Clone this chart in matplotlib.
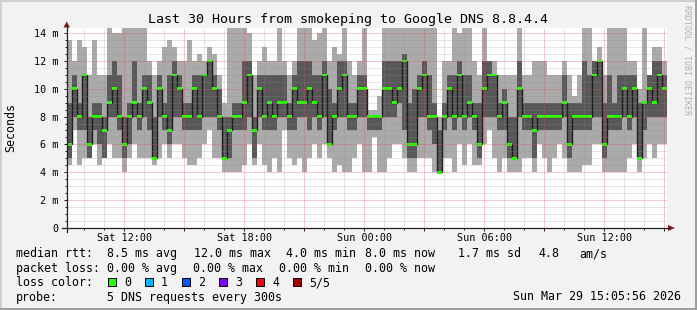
import matplotlib
matplotlib.use("Agg")
import matplotlib.pyplot as plt
from matplotlib.patches import Rectangle, Polygon
from matplotlib.lines import Line2D
import numpy as np

# ---------------- data ----------------
title = "Last 30 Hours from smokeping to Google DNS 8.8.4.4"
start_hour = 9.12      # hours since Sat 00:00 at the left edge
step_hours = 0.25      # one bin = 15 minutes

# median rtt per bin (ms)
median = [6, 10, 8, 11, 6, 8, 8, 7, 9, 10, 8, 6, 8, 9, 8, 10, 9, 5, 10, 8,
          7, 11, 10, 8, 8, 10, 8, 11, 12, 10, 8, 5, 7, 8, 8, 9, 11, 7, 10, 8,
          9, 8, 9, 9, 8, 10, 9, 9, 10, 9, 8, 11, 6, 8, 10, 11, 8, 8, 10, 10,
          8, 8, 8, 10, 10, 9, 10, 12, 6, 6, 10, 11, 8, 8, 4, 8, 10, 8, 11, 8,
          9, 8, 6, 10, 11, 11, 8, 9, 6, 5, 10, 8, 8, 7, 8, 8, 8, 8, 8, 9,
          6, 8, 8, 8, 8, 11, 12, 6, 8, 8, 8, 10, 8, 10, 5, 9, 10, 9, 11, 10]
# max rtt per bin (ms)
rtt_max = [13.5, 12, 13.5, 13, 11, 13.5, 11, 11, 14.5, 14, 14, 14.5, 14.5, 14.5, 14.5, 14.5, 12, 11, 12, 13,
           13.5, 13, 12, 12, 13.5, 12, 12.5, 12, 13, 12.5, 11, 9, 14.5, 14.5, 14.5, 14.5, 14, 11, 12, 13,
           12, 12, 14.5, 12, 11, 12, 14.5, 14.5, 14.5, 13.5, 14, 14.5, 12, 13, 12.5, 14.5, 12, 11, 12, 14.5,
           8.5, 8.5, 9.5, 14.5, 14.5, 14.5, 14.5, 14.5, 14.5, 14.5, 14.5, 14.5, 14.5, 14.5, 8, 12, 12, 14.5, 14, 14.5,
           14.5, 12, 11, 14.5, 12, 12, 11, 11, 11, 11, 14.5, 11, 11, 12, 12, 12, 11, 11, 11, 12,
           11, 9.5, 11, 14.5, 14.5, 12, 13, 11, 14.5, 14.5, 14.5, 14.5, 12, 12, 10, 14.5, 11, 13, 13, 12]
# min rtt per bin (ms)
rtt_min = [4.5, 7, 4.5, 5, 5, 6, 4.5, 5, 6, 5, 5, 4, 5, 6, 5, 5, 5, 4.5, 5, 6,
           5, 6, 6, 5, 4.5, 4.5, 5, 6, 7, 5, 5, 4, 4, 4, 4, 4.5, 6, 4.5, 6, 4.5,
           4, 5, 4, 7, 5, 4.5, 5, 4, 5, 6, 5, 6, 5, 4, 4.5, 4, 4, 5, 6, 4,
           4, 6.5, 4, 4, 5, 6, 6, 5, 4, 4, 5, 5, 5, 4, 4, 5, 5, 4, 6, 4.5,
           6, 4.5, 4.5, 6, 7, 5, 4, 5, 4, 4, 4, 5, 5, 4, 6, 5, 4, 5, 6, 5,
           4, 4, 4, 4.5, 4.5, 6, 6, 4, 4, 4, 4, 4, 5, 6, 4, 5, 6, 5, 6, 6]
# upper inner smoke (4th of 5 pings)
rtt_p4 = [9, 11, 9, 11, 8, 9, 9, 8, 11, 12, 11, 8, 9, 12, 9, 11, 11, 8, 11, 9,
          11, 12, 11, 9, 9, 11, 11, 11, 12, 11, 10, 8, 8, 9, 9, 12, 12, 8, 11, 11,
          11, 11, 11, 11, 9, 11, 12, 12, 12, 11, 11, 12, 10, 9, 12, 12, 9, 9, 11, 11,
          8, 8, 8, 12, 12, 12, 12, 12.5, 9, 10, 11, 12, 11, 9, 7, 9, 11, 11, 12, 11,
          11, 9, 9, 12, 12, 11, 9, 10, 8, 8, 12, 9, 9, 9, 9, 9, 9, 9, 9, 11,
          9, 9, 9, 12, 11, 12, 12, 9, 11, 9, 11, 11, 11, 11, 9, 9, 11, 12, 12, 11]
# lower inner smoke (2nd of 5 pings)
rtt_p2 = [5, 8, 7, 7, 5, 7, 6, 5, 8, 8, 7, 5, 6, 8, 7, 8, 7, 5, 8, 7,
          6, 8, 8, 7, 7, 7, 7, 8, 8, 8, 7, 5, 5, 7, 7, 7, 8, 5, 8, 7,
          7, 7, 8, 8, 7, 7, 8, 8, 7, 8, 7, 8, 6, 7, 8, 8, 7, 7, 8, 8,
          7, 7, 7, 8, 8, 8, 9, 7, 5, 5, 8, 8, 7, 6, 4, 7, 8, 7, 8, 7,
          8, 7, 5, 8, 8, 8, 7, 7, 5, 5, 8, 7, 7, 5, 7, 7, 7, 7, 7, 8,
          5, 7, 7, 7, 7, 8, 8, 5, 7, 7, 7, 8, 7, 8, 5, 7, 8, 8, 8, 8]

ytick_vals = [0, 2, 4, 6, 8, 10, 12, 14]
ytick_labels = ["0", "2 m", "4 m", "6 m", "8 m", "10 m", "12 m", "14 m"]
xtick_hours = [12, 15, 18, 21, 24, 27, 30, 33, 36, 39]
xtick_labels = ["Sat 12:00", "", "Sat 18:00", "", "Sun 00:00", "", "Sun 06:00", "", "Sun 12:00", ""]

legend_rtt = [("median rtt:", 16), ("8.5 ms avg", 107.3), ("12.0 ms max", 194),
              ("4.0 ms min", 286), ("8.0 ms now", 365), ("1.7 ms sd", 458.3),
              ("4.8", 538.3), ("am/s", 579.3)]
legend_loss = [("packet loss:", 16), ("0.00 % avg", 107.3), ("0.00 % max", 193.3),
               ("0.00 % min", 279.3), ("0.00 % now", 365)]
loss_labels = ["0", "1", "2", "3", "4", "5/5"]
loss_colors = ["#26ff00", "#00b8ff", "#0059ff", "#7e00ff", "#ff0000", "#a10000"]
probe_text = "5 DNS requests every 300s"
stamp_text = "Sun Mar 29 15:05:56 2026"

# ---------------- figure ----------------
W, H, DPI = 697, 310, 100
MONO = "DejaVu Sans Mono"
plt.rcParams['font.family'] = MONO

fig = plt.figure(figsize=(W / DPI, H / DPI), dpi=DPI, facecolor="#f2f2f2")

def fx(px):
    return px / W

def fy(py):
    return 1 - py / H

ax = fig.add_axes([fx(66.7), fy(228), fx(666.7) - fx(66.7), fy(27.5) - fy(228)])
ax.set_facecolor("white")

n = len(median)
edges = start_hour + step_hours * np.arange(n + 1)
med = np.array(median, float)

ax.stairs(rtt_max, edges, baseline=rtt_min, fill=True, color="#aaaaaa", lw=0, zorder=1)
ax.stairs(rtt_p4, edges, baseline=rtt_p2, fill=True, color="#585858", lw=0, zorder=1.1)
ax.stairs(med, edges, baseline=None, color="#1c1c1c", lw=1.0, zorder=1.2)
ax.stairs(med + 0.09, edges, baseline=med - 0.09, fill=True, color=loss_colors[0], lw=0, zorder=1.3)

ax.set_xlim(edges[0], edges[-1])
ax.set_ylim(0, (228 - 27.5) / 13.93)

ax.set_xticks(xtick_hours)
ax.set_xticklabels(xtick_labels)
ax.set_xticks(np.arange(10, 40, 1), minor=True)
ax.set_yticks(ytick_vals)
ax.set_yticklabels(ytick_labels)
ax.set_yticks(np.arange(0, 14.5, 0.5), minor=True)

ax.set_axisbelow(False)
ax.grid(which="minor", color=(0.56, 0.56, 0.56), alpha=0.45, linestyle=(0, (1, 1)), linewidth=0.72)
ax.grid(which="major", color=(0.87, 0.31, 0.31), alpha=0.6, linestyle=(0, (1, 1)), linewidth=0.72)

for s in ax.spines.values():
    s.set_visible(False)

ax.tick_params(axis="both", which="both", colors="#1f1f1f", labelcolor="black",
               labelsize=7.25, width=0.72)
ax.tick_params(axis="y", which="major", length=2.5, pad=3.2)
ax.tick_params(axis="y", which="minor", length=1.5)
ax.tick_params(axis="x", which="major", length=2.0, pad=1.8)
ax.tick_params(axis="x", which="minor", length=1.5)

# axis lines and arrows
fig.add_artist(Line2D([fx(62), fx(669)], [fy(228), fy(228)], color="#1f1f1f", lw=0.9))
fig.add_artist(Line2D([fx(66.7), fx(66.7)], [fy(232), fy(25)], color="#1f1f1f", lw=0.9))
fig.add_artist(Polygon([(fx(668), fy(225)), (fx(675), fy(228)), (fx(668), fy(231))],
                       closed=True, color="#801f1f", lw=0))
fig.add_artist(Polygon([(fx(63.5), fy(27.5)), (fx(66.7), fy(21.5)), (fx(69.9), fy(27.5))],
                       closed=True, color="#801f1f", lw=0))

# frame shades
fig.add_artist(Rectangle((0, fy(310)), fx(2), 1, transform=fig.transFigure, color="#cfcfcf", lw=0))
fig.add_artist(Rectangle((0, fy(2)), 1, fy(0) - fy(2), transform=fig.transFigure, color="#cfcfcf", lw=0))
fig.add_artist(Rectangle((fx(695), 0), fx(2), 1, transform=fig.transFigure, color="#9e9e9e", lw=0))
fig.add_artist(Rectangle((0, 0), 1, fy(308), transform=fig.transFigure, color="#9e9e9e", lw=0))

# texts
fig.text(fx(348.5), fy(23.3), title, ha="center", va="baseline", fontsize=9.6, color="black")
fig.text(fx(11), fy(127.5), "Seconds", rotation=90, ha="center", va="center", fontsize=8.4)
fig.text(fx(687.5), fy(60), "RRDTOOL / TOBI OETIKER", rotation=270, ha="center", va="center",
         fontsize=6.0, color="#b0b0b0")

LFS = 8.4
for txt, x in legend_rtt:
    fig.text(fx(x), fy(257.3), txt, ha="left", va="baseline", fontsize=LFS)
for txt, x in legend_loss:
    fig.text(fx(x), fy(271.8), txt, ha="left", va="baseline", fontsize=LFS)
fig.text(fx(16), fy(286.2), "loss color:", ha="left", va="baseline", fontsize=LFS)
for i, (lab, col) in enumerate(zip(loss_labels, loss_colors)):
    bx = 108.3 + 37.0 * i
    fig.add_artist(Rectangle((fx(bx), fy(285.5)), fx(7.5), fy(277.5) - fy(285.5),
                             transform=fig.transFigure, facecolor=col, edgecolor="black", lw=0.72))
    fig.text(fx(bx + 15.7), fy(286.2), lab, ha="left", va="baseline", fontsize=LFS)
fig.text(fx(16), fy(300.5), "probe:", ha="left", va="baseline", fontsize=LFS)
fig.text(fx(107.3), fy(300.5), probe_text, ha="left", va="baseline", fontsize=LFS)
fig.text(fx(681), fy(300.5), stamp_text, ha="right", va="baseline", fontsize=LFS)

fig.savefig("out.png", dpi=DPI, facecolor=fig.get_facecolor())
